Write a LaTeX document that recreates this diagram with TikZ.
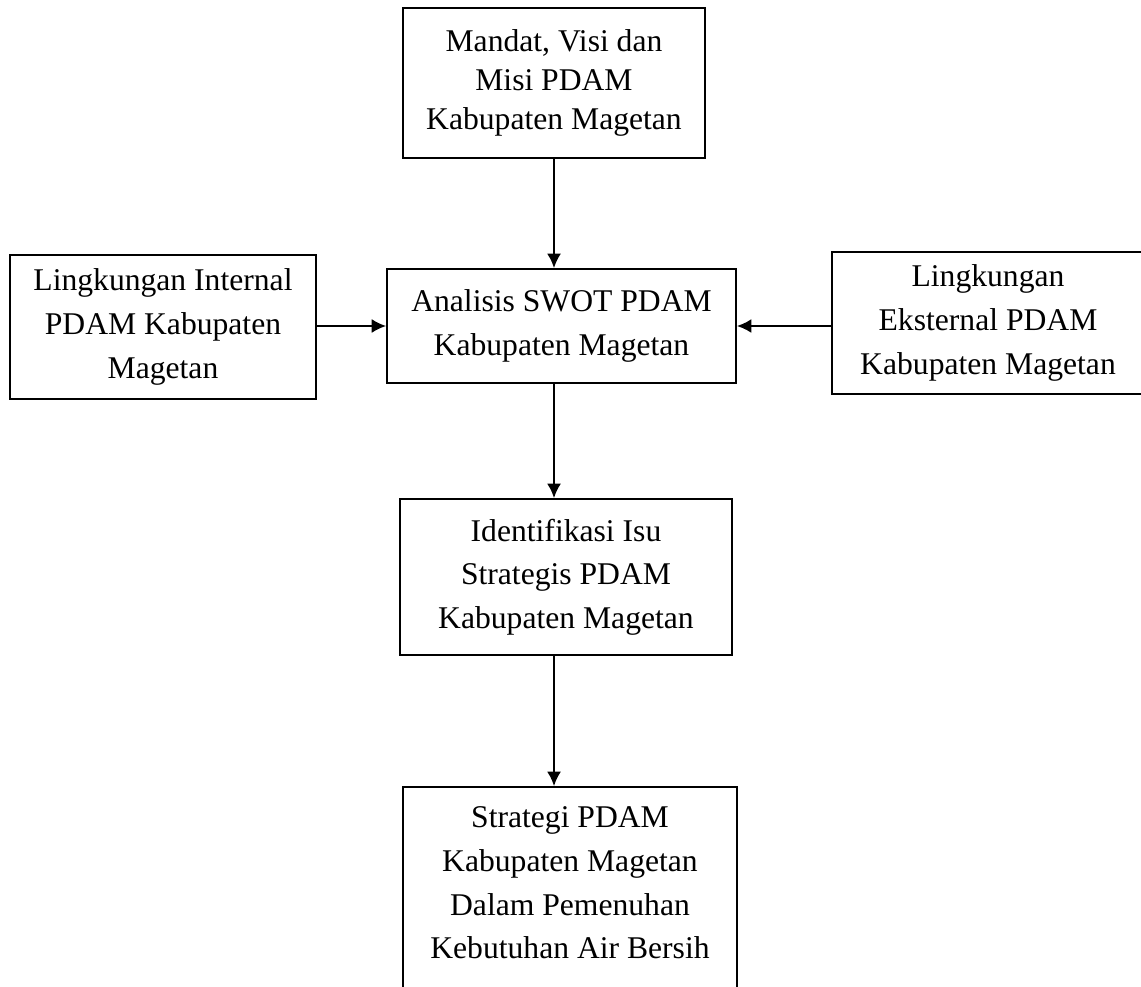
\documentclass[tikz,border=0pt]{standalone}
\usepackage{fontspec}
\setmainfont{Liberation Serif}
\usetikzlibrary{arrows.meta}

\tikzset{
  blok/.style={draw=black, line width=0.95pt, align=center, inner sep=0pt,
               font=\fontsize{18}{24.8}\selectfont},
  panah/.style={-{Latex[length=2.9mm,width=2.8mm]}, line width=1.3pt}
}

\begin{document}
\begin{tikzpicture}[x=0.02cm, y=-0.02cm]
  \useasboundingbox (0,0) rectangle (1141,986);
  \clip (0,0) rectangle (1141,986);
  % vertical axis of the main flow
  \coordinate (sumbu) at (554,0);
  % boxes
  \node[blok, minimum width=6.04cm, minimum height=3.00cm,
        font=\fontsize{18}{22.2}\selectfont] (mandat) at (554,83)
    {Mandat, Visi dan\\Misi PDAM\\Kabupaten Magetan};
  \node[blok, minimum width=6.98cm, minimum height=2.28cm] (swot) at (561.5,326)
    {Analisis SWOT PDAM\\Kabupaten Magetan};
  \node[blok, minimum width=6.12cm, minimum height=2.88cm] (internal) at (163,327)
    {Lingkungan Internal\\PDAM Kabupaten\\Magetan};
  \node[blok, minimum width=6.24cm, minimum height=2.84cm] (eksternal) at (988,323)
    {Lingkungan\\Eksternal PDAM\\Kabupaten Magetan};
  \node[blok, minimum width=6.64cm, minimum height=3.12cm] (ident) at (566,577)
    {Identifikasi Isu\\Strategis PDAM\\Kabupaten Magetan};
  % last box runs past the bottom edge
  \node[blok, minimum width=6.68cm, minimum height=4.46cm] (strategi) at (570,898.5) {};
  \node[blok, draw=none] (strategiteks) at (570,883)
    {Strategi PDAM\\Kabupaten Magetan\\Dalam Pemenuhan\\Kebutuhan Air Bersih};
  % connectors
  \draw[panah] (mandat.south -| sumbu) -- (swot.north -| sumbu);
  \draw[panah] (internal.east |- swot.west) -- (swot.west);
  \draw[panah] (eksternal.west |- swot.east) -- (swot.east);
  \draw[panah] (swot.south -| sumbu) -- (ident.north -| sumbu);
  \draw[panah] (ident.south -| sumbu) -- (strategi.north -| sumbu);
\end{tikzpicture}
\end{document}
